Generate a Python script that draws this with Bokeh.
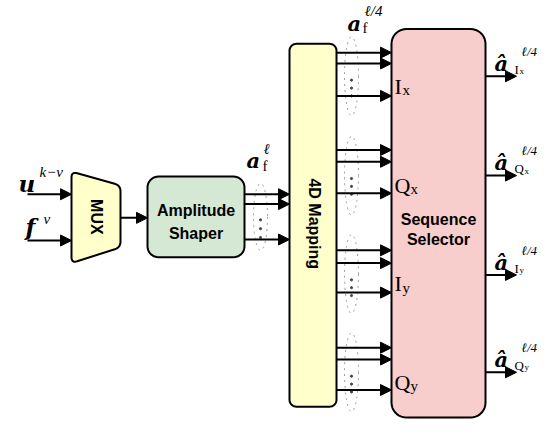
import numpy as np
from bokeh.plotting import figure
from bokeh.models import Range1d, Arrow, NormalHead, ColumnDataSource
from bokeh.core.properties import value
from bokeh.embed import file_html
from bokeh.resources import INLINE

# ---------------- diagram content (pixel layout, y grows downwards) ----------------
block_labels = ["MUX", "Amplitude", "Shaper", "4D Mapping", "Sequence", "Selector"]
mux_x = [79, 128, 128, 79]
mux_y = [178, 192, 255, 271]
shaper_box = [155, 252, 183, 265]     # x0, x1, y0, y1
mapping_box = [297, 344, 48, 417]
selector_box = [399, 493, 33, 428]

mux_inputs_y = [201, 248]
mux_output_y = 225
shaper_outputs_y = [201, 211, 247]
stream_letters = ["I", "Q", "I", "Q"]
stream_subs = ["x", "x", "y", "y"]
group_center_y = [81, 182, 282, 382]
group_arrows_y = [[57, 68, 101], [156, 168, 200], [258, 271, 301], [357, 369, 400]]
output_arrows_y = [81, 182, 283, 382]

YELLOW = "#FFFFCC"
GREEN = "#D5E8D4"
PINK = "#F8CECC"
SERIF = "Liberation Serif"
MATH = "DejaVu Serif"
SANS = "Liberation Sans"

p = figure(width=540, height=419, x_range=Range1d(8, 548), y_range=Range1d(430, 4),
           output_backend="svg", toolbar_location=None, min_border=0,
           x_axis_type=None, y_axis_type=None)
p.grid.visible = False
p.outline_line_color = None
p.background_fill_color = "white"


def rounded_rect(b, r, n=10):
    x0, x1, y0, y1 = b
    xs, ys = [], []
    for cx, cy, a0 in [(x0 + r, y0 + r, 180), (x1 - r, y0 + r, 270),
                       (x1 - r, y1 - r, 0), (x0 + r, y1 - r, 90)]:
        t = np.radians(np.linspace(a0, a0 + 90, n))
        xs += list(cx + r * np.cos(t))
        ys += list(cy + r * np.sin(t))
    return xs, ys


def rounded_poly(px, py, r, n=8):
    P = np.array(list(zip(px, py)), dtype=float)
    xs, ys = [], []
    m = len(P)
    for i in range(m):
        A, B, C = P[i - 1], P[i], P[(i + 1) % m]
        u = (A - B) / np.linalg.norm(A - B)
        v = (C - B) / np.linalg.norm(C - B)
        p1, p2 = B + r * u, B + r * v
        for t in np.linspace(0, 1, n):
            q = (1 - t) ** 2 * p1 + 2 * (1 - t) * t * B + t ** 2 * p2
            xs.append(q[0]); ys.append(q[1])
    return xs, ys


# ---------------- dotted ellipses and dots ----------------
ell_x = [268] + [359] * 4
ell_y = [224] + group_center_y
ell_h = [68] + [80] * 4
p.ellipse(x=ell_x, y=ell_y, width=14, height=ell_h, fill_color=None,
          line_color="#9a9a9a", line_dash="dotted", line_width=1)
dot_x, dot_y = [], []
for k in range(3):
    dot_x.append(268); dot_y.append(shaper_outputs_y[1] + 16 + 9 * k)
for arr in group_arrows_y:
    for k in range(3):
        dot_x.append(359); dot_y.append(arr[1] + 17 + 8 * k)
p.scatter(x=dot_x, y=dot_y, size=2.2, color="#444444")

# ---------------- blocks ----------------
mx, my = rounded_poly(mux_x, mux_y, 6)
sx, sy = rounded_rect(shaper_box, 11)
dx, dy = rounded_rect(mapping_box, 7)
qx, qy = rounded_rect(selector_box, 15)
p.patches(xs=[mx, sx, dx, qx], ys=[my, sy, dy, qy],
          fill_color=[YELLOW, GREEN, YELLOW, PINK], line_color="black", line_width=2)

# ---------------- arrows ----------------
ax0, ay0, ax1, ay1 = [], [], [], []
for y in mux_inputs_y:
    ax0.append(35); ay0.append(y); ax1.append(mux_x[0]); ay1.append(y)
ax0.append(mux_x[1]); ay0.append(mux_output_y); ax1.append(shaper_box[0]); ay1.append(mux_output_y)
for y in shaper_outputs_y:
    ax0.append(shaper_box[1]); ay0.append(y); ax1.append(mapping_box[0]); ay1.append(y)
for arr in group_arrows_y:
    for y in arr:
        ax0.append(mapping_box[1]); ay0.append(y); ax1.append(selector_box[0]); ay1.append(y)
for y in output_arrows_y:
    ax0.append(selector_box[1]); ay0.append(y); ax1.append(524); ay1.append(y)
src = ColumnDataSource(dict(x0=ax0, y0=ay0, x1=ax1, y1=ay1))
p.add_layout(Arrow(source=src, x_start="x0", y_start="y0", x_end="x1", y_end="y1",
                   line_width=2, line_color="black",
                   end=NormalHead(size=11, fill_color="black", line_color="black", line_width=1)))


# ---------------- texts ----------------
def txt(x, y, s, size, font=SERIF, style="normal", align="left", baseline="alphabetic", angle=0.0):
    p.text(x=[x], y=[y], text=[s], text_font=value(font), text_font_size=value(f"{size}px"),
           text_font_style=style, text_align=align, text_baseline=baseline, angle=angle,
           text_color="black")


# block names
txt(104, 224, block_labels[0], 16, SANS, "bold", "center", "middle", -np.pi / 2)
txt(203.5, 218, block_labels[1], 16, SANS, "bold", "center")
txt(203.5, 241, block_labels[2], 16, SANS, "bold", "center")
txt(322, 231, block_labels[3], 16, SANS, "bold", "center", "middle", -np.pi / 2)
txt(446, 227, block_labels[4], 16, SANS, "bold", "center")
txt(446, 247, block_labels[5], 16, SANS, "bold", "center")

# inputs of MUX
txt(26, 190, "u", 23, MATH, "bold italic")
txt(47, 178, "k\u2212v", 15, SERIF, "italic")
txt(33, 234, "f", 23, MATH, "bold italic")
txt(51, 226, "v", 15, SERIF, "italic")

# a_f^l
txt(254, 167, "a", 21, MATH, "bold italic")
txt(271, 155, "\u2113", 15, SERIF, "italic")
txt(270, 172, "f", 15, SERIF)

# a_f^{l/4}
txt(355, 27, "a", 21, MATH, "bold italic")
txt(372, 15, "\u2113/4", 15, SERIF, "italic")
txt(370, 32, "f", 15, SERIF)

# selector input labels and output labels
for L, s, cy, oy in zip(stream_letters, stream_subs, group_center_y, output_arrows_y):
    txt(402, cy + 10, L, 22, SERIF)
    txt(402 + (8 if L == "I" else 16), cy + 14, s, 15, SERIF)
    txt(502, oy - 13, "\u00e2", 21, MATH, "bold italic")
    txt(529, oy - 25, "\u2113/4", 13, SERIF, "italic")
    txt(522, oy - 7, L, 13, SERIF)
    txt(522 + (5 if L == "I" else 10), oy - 5, s, 9, SERIF)

open("out.html", "w").write(file_html(p, INLINE))
